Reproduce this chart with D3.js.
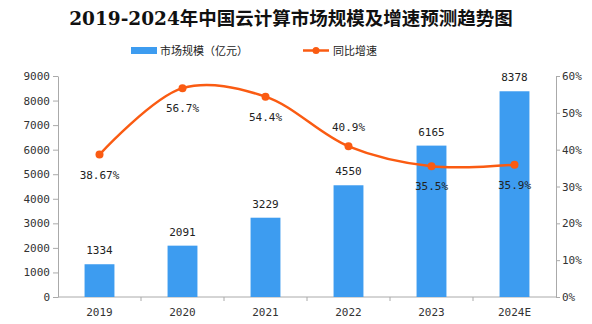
<!DOCTYPE html>
<html>
<head>
<meta charset="utf-8">
<script src="https://cdn.jsdelivr.net/npm/d3@7"></script>
<style>
	body { margin: 0; background: #fff; }
	svg { display: block; }
</style>
</head>
<body>
<div class="chart"></div>
<script>
	'use strict';

	var years = ['2019', '2020', '2021', '2022', '2023', '2024E'];
	var marketSize = [1334, 2091, 3229, 4550, 6165, 8378];
	var growthRate = [38.67, 56.7, 54.4, 40.9, 35.5, 35.9];
	var growthLabels = ['38.67%', '56.7%', '54.4%', '40.9%', '35.5%', '35.9%'];
	var sizeTicks = [0, 1000, 2000, 3000, 4000, 5000, 6000, 7000, 8000, 9000];
	var rateTicks = [0, 10, 20, 30, 40, 50, 60];

	var width = 592, height = 324;
	var margin = { top: 76, right: 36, bottom: 27, left: 58 };
	var barColor = '#3d9cf0';
	var lineColor = '#fa5b12';
	var labelFont = '"DejaVu Sans Mono", monospace';

	var svg = d3.select('.chart').append('svg')
		.attr('width', width)
		.attr('height', height);

	var x = d3.scaleBand().domain(years)
		.range([margin.left, width - margin.right])
		.paddingInner(0.64).paddingOuter(0.32);
	var band = d3.scaleBand().domain(years).range([margin.left, width - margin.right]);
	var y = d3.scaleLinear().domain([0, 9000]).range([height - margin.bottom, margin.top]);
	var yRate = d3.scaleLinear().domain([0, 60]).range([height - margin.bottom, margin.top]);

	// title
	svg.append('text')
		.attr('x', 291).attr('y', 25)
		.attr('text-anchor', 'middle')
		.attr('font-family', '"DejaVu Serif", "Noto Sans CJK SC", serif')
		.attr('font-weight', 'bold')
		.attr('font-size', 18.5)
		.attr('fill', '#111')
		.text('2019-2024年中国云计算市场规模及增速预测趋势图');

	// legend
	var legend = svg.append('g').attr('font-family', '"Noto Sans CJK SC", sans-serif')
		.attr('font-size', 11).attr('fill', '#222');
	legend.append('rect').attr('x', 131).attr('y', 47).attr('width', 26).attr('height', 7).attr('fill', barColor);
	legend.append('text').attr('x', 160).attr('y', 55).text('市场规模（亿元）');
	legend.append('line').attr('x1', 303).attr('x2', 329).attr('y1', 50.5).attr('y2', 50.5)
		.attr('stroke', lineColor).attr('stroke-width', 2.5);
	legend.append('circle').attr('cx', 316).attr('cy', 50.5).attr('r', 3.5).attr('fill', lineColor);
	legend.append('text').attr('x', 333).attr('y', 55).text('同比增速');

	// axes
	var axisColor = '#aaa';
	function styleAxis(g) {
		g.selectAll('path, line').attr('stroke', axisColor);
		g.selectAll('text').attr('font-family', labelFont).attr('font-size', 11).attr('fill', '#333');
	}

	svg.append('g')
		.attr('transform', 'translate(' + margin.left + ',0)')
		.call(d3.axisLeft(y).tickValues(sizeTicks).tickSize(5).tickSizeOuter(0).tickPadding(3)
			.tickFormat(d3.format('d')))
		.call(styleAxis);

	svg.append('g')
		.attr('transform', 'translate(' + (width - margin.right) + ',0)')
		.call(d3.axisRight(yRate).tickValues(rateTicks).tickSize(4).tickSizeOuter(0).tickPadding(2)
			.tickFormat(function(d) { return d + '%'; }))
		.call(styleAxis);

	// x axis: ticks sit between categories
	var xAxis = svg.append('g').attr('transform', 'translate(0,' + (height - margin.bottom) + ')');
	xAxis.append('line')
		.attr('x1', margin.left).attr('x2', width - margin.right)
		.attr('stroke', axisColor);
	xAxis.selectAll('line.tick').data(years.slice(1)).enter().append('line')
		.attr('class', 'tick')
		.attr('x1', function(d) { return band(d); }).attr('x2', function(d) { return band(d); })
		.attr('y1', 0).attr('y2', 4)
		.attr('stroke', axisColor);
	xAxis.selectAll('text').data(years).enter().append('text')
		.attr('x', function(d) { return band(d) + band.bandwidth() / 2; })
		.attr('y', 19)
		.attr('text-anchor', 'middle')
		.attr('font-family', labelFont).attr('font-size', 11).attr('fill', '#333')
		.text(function(d) { return d; });

	// bars
	var bars = years.map(function(d, i) { return { year: d, value: marketSize[i] }; });
	svg.selectAll('rect.bar').data(bars).enter().append('rect')
		.attr('class', 'bar')
		.attr('x', function(d) { return x(d.year); })
		.attr('width', x.bandwidth())
		.attr('y', function(d) { return y(d.value); })
		.attr('height', function(d) { return y(0) - y(d.value); })
		.attr('fill', barColor);

	svg.selectAll('text.bar-label').data(bars).enter().append('text')
		.attr('class', 'bar-label')
		.attr('x', function(d) { return x(d.year) + x.bandwidth() / 2; })
		.attr('y', function(d) { return y(d.value) - 10; })
		.attr('text-anchor', 'middle')
		.attr('font-family', labelFont).attr('font-size', 11).attr('fill', '#222')
		.text(function(d) { return d.value; });

	// growth line
	var points = years.map(function(d, i) {
		return { year: d, value: growthRate[i], label: growthLabels[i] };
	});
	var line = d3.line()
		.x(function(d) { return band(d.year) + band.bandwidth() / 2; })
		.y(function(d) { return yRate(d.value); })
		.curve(d3.curveCatmullRom.alpha(0.5));

	svg.append('path').datum(points)
		.attr('d', line)
		.attr('fill', 'none')
		.attr('stroke', lineColor)
		.attr('stroke-width', 2.5);

	svg.selectAll('circle.pt').data(points).enter().append('circle')
		.attr('class', 'pt')
		.attr('cx', function(d) { return band(d.year) + band.bandwidth() / 2; })
		.attr('cy', function(d) { return yRate(d.value); })
		.attr('r', 4)
		.attr('fill', lineColor);

	// 40.9% sits above its point, the others below
	svg.selectAll('text.pt-label').data(points).enter().append('text')
		.attr('class', 'pt-label')
		.attr('x', function(d) { return band(d.year) + band.bandwidth() / 2; })
		.attr('y', function(d) { return yRate(d.value) + (d.year === '2022' ? -15 : 24); })
		.attr('text-anchor', 'middle')
		.attr('font-family', labelFont).attr('font-size', 11).attr('fill', '#222')
		.text(function(d) { return d.label; });
</script>
</body>
</html>
